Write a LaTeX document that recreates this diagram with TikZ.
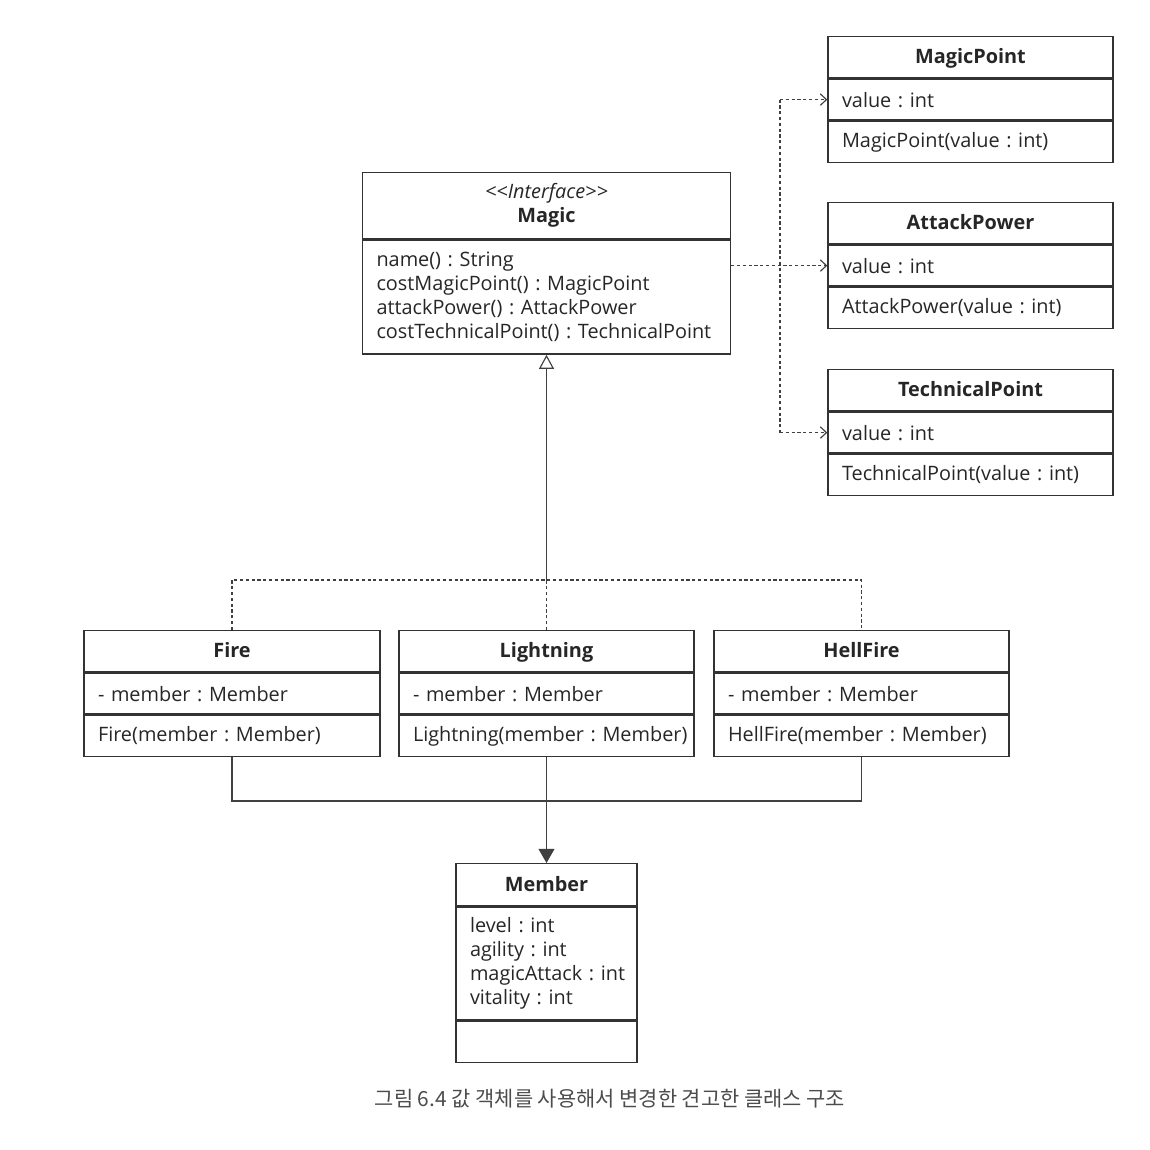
\documentclass[tikz,border=0pt]{standalone}
\usepackage{fontspec}
\setmainfont{Open Sans}
\newfontfamily\krfont{Noto Sans CJK KR}
\usetikzlibrary{positioning,arrows.meta}
\frenchspacing
\newcommand{\umlsize}{\fontsize{11.3}{13.6}\selectfont}
\tikzset{every node/.style={font=\umlsize, text=black!85}}
\tikzset{classbox/.style={draw=black!80, rectangle, line width=0.8pt, anchor=north}}
\tikzset{classhead/.style={classbox, inner sep=0pt, minimum height=0.82cm, text height=0.86em, text depth=0.14em, font=\umlsize\bfseries}}
\tikzset{classrow/.style={classbox, inner xsep=0.28cm, inner ysep=0pt, minimum height=0.82cm, text width=#1, align=left}}
\tikzset{dotline/.style={draw=black!75, line width=0.65pt, dash pattern=on 1.8pt off 1.5pt}}
\tikzset{dep/.style={dotline, -{Straight Barb[length=3.5pt, width=6.5pt]}}}
\tikzset{inherit/.style={draw=black!75, line width=0.65pt, -{Triangle[open, length=8pt, width=8.5pt]}}}
\tikzset{assoc/.style={draw=black!75, line width=0.65pt}}

\begin{document}
\begin{tikzpicture}[x=0.02cm, y=-0.02cm]
\useasboundingbox (0,0) rectangle (1150,1150);

% interface
\node[classbox, inner sep=0pt, minimum width=7.36cm, minimum height=1.32cm, align=center] (Magic) at (546.5,172)
  {\textit{<{}<Interface>{}>}\\\textbf{Magic}};
\node[classrow=6.8cm, minimum height=2.28cm, below=0pt of Magic] (Magic-op)
  {name() : String\\costMagicPoint() : MagicPoint\\attackPower() : AttackPower\\costTechnicalPoint() : TechnicalPoint};

% value objects
\foreach \name/\y in {MagicPoint/36, AttackPower/202, TechnicalPoint/369} {
  \node[classhead, minimum width=5.7cm] (\name) at (970.5,\y) {\name};
  \node[classrow=5.14cm, below=0pt of \name] (\name-attr) {value : int};
  \node[classrow=5.14cm, below=0pt of \name-attr] (\name-op) {\mbox{\name(value : int)}};
}

% implementations
\foreach \name/\x/\w in {Fire/232/5.92, Lightning/546.5/5.9, HellFire/861.5/5.9} {
  \pgfmathsetmacro{\tw}{\w-0.56}
  \node[classhead, minimum width=\w cm] (\name) at (\x,630) {\name};
  \node[classrow=\tw cm, below=0pt of \name] (\name-attr) {- member : Member};
  \node[classrow=\tw cm, below=0pt of \name-attr] (\name-op) {\mbox{\name(member : Member)}};
}

% member
\node[classhead, minimum width=3.62cm, minimum height=0.84cm] (Member) at (546.5,863) {Member};
\node[classrow=3.06cm, minimum height=2.26cm, below=0pt of Member] (Member-attr)
  {level : int\\agility : int\\\mbox{magicAttack : int}\\vitality : int};
\node[classrow=3.06cm, below=0pt of Member-attr] (Member-op) {};

% connectors
\coordinate (depbus) at (780,0);
\coordinate (realbus) at (546.5,580);
\coordinate (usebus) at (546.5,801);
\draw[dep] (Magic-op.east |- AttackPower-attr.west) -- (AttackPower-attr.west);
\draw[dotline] (depbus |- MagicPoint-attr.west) -- (depbus |- TechnicalPoint-attr.west);
\draw[dep] (depbus |- MagicPoint-attr.west) -- (MagicPoint-attr.west);
\draw[dep] (depbus |- TechnicalPoint-attr.west) -- (TechnicalPoint-attr.west);
\draw[dotline] (Fire.north) |- (realbus) -| (HellFire.north);
\draw[dotline] (Lightning.north) -- (realbus);
\draw[inherit] (realbus) -- (Magic-op.south);
\draw[assoc] (Fire-op.south) |- (usebus) -| (HellFire-op.south);
\draw[assoc, -{Triangle[length=8pt, width=9pt]}] (Lightning-op.south) -- (Member.north);

\node[font=\krfont\fontsize{11.9}{14}\selectfont, text=black!70] (caption) at (610,1099)
  {그림 6.4 값 객체를 사용해서 변경한 견고한 클래스 구조};
\end{tikzpicture}
\end{document}
